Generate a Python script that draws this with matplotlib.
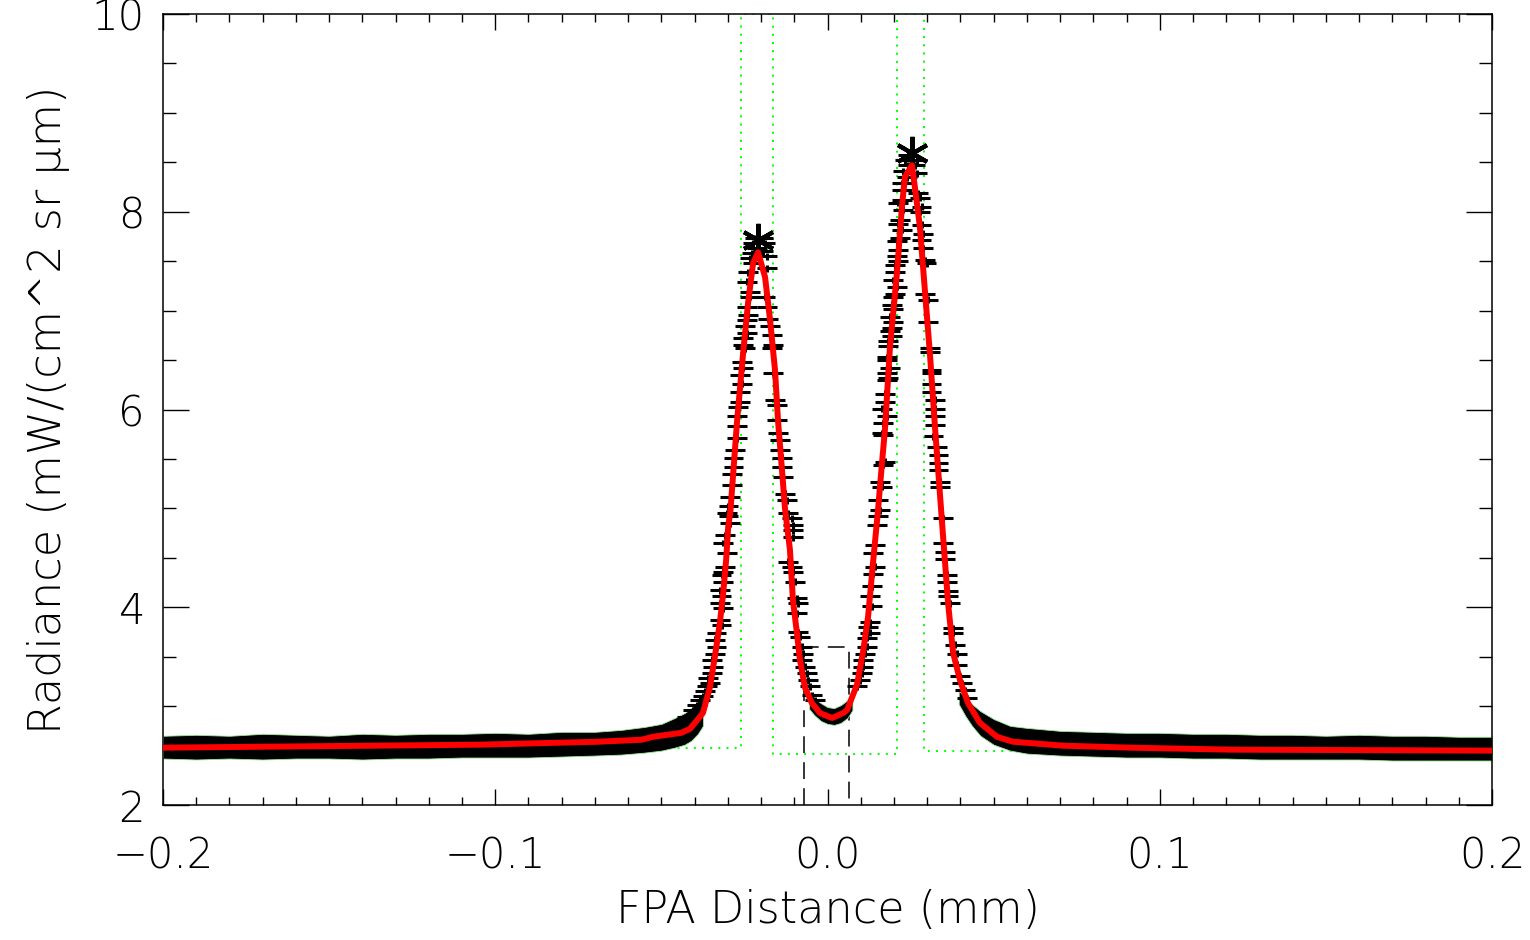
import matplotlib
matplotlib.use("Agg")
import matplotlib.pyplot as plt
from matplotlib.ticker import MultipleLocator

# ---------------- data ----------------
# red fit curve
fit_x = [-0.200, -0.105, -0.069, -0.056, -0.0525, -0.044, -0.0414, -0.0375, -0.0354, -0.0339,
         -0.0324, -0.0314, -0.0305, -0.0299, -0.0292, -0.0272, -0.0254, -0.0239, -0.0224, -0.0209,
         -0.0188, -0.0173, -0.0158, -0.0149, -0.0137, -0.0128, -0.0113, -0.0104, -0.0092, -0.0083,
         -0.0068, -0.0047, -0.0032, -0.0023, 0.0014, 0.0047, 0.0059, 0.0089, 0.0107, 0.0122,
         0.0137, 0.0152, 0.0164, 0.0173, 0.0188, 0.0209, 0.0224, 0.0233, 0.0254, 0.0263,
         0.0278, 0.0293, 0.0309, 0.0324, 0.0333, 0.0348, 0.0363, 0.0378, 0.0399, 0.0423,
         0.0459, 0.0510, 0.0558, 0.0709, 0.0910, 0.1211, 0.200]
fit_y = [2.58, 2.61, 2.64, 2.66, 2.69, 2.73, 2.77, 2.93, 3.19, 3.50,
         3.84, 4.14, 4.48, 4.81, 4.98, 5.89, 6.57, 7.08, 7.48, 7.59,
         7.34, 6.91, 6.40, 5.89, 5.39, 5.00, 4.58, 4.07, 3.74, 3.47,
         3.19, 3.03, 2.97, 2.93, 2.88, 2.93, 2.96, 3.22, 3.55, 3.90,
         4.45, 4.98, 5.46, 5.80, 6.63, 7.38, 8.05, 8.35, 8.47, 8.25,
         7.85, 7.21, 6.53, 5.80, 5.39, 4.71, 4.04, 3.54, 3.26, 3.03,
         2.83, 2.69, 2.64, 2.60, 2.58, 2.56, 2.55]

# dense noisy data shown as an envelope (lower / upper edge of the black band)
band_left_x = [-0.200, -0.190, -0.180, -0.170, -0.160, -0.150, -0.140, -0.130, -0.120, -0.110,
               -0.100, -0.090, -0.080, -0.070, -0.062, -0.055, -0.050, -0.046, -0.043, -0.041,
               -0.039, -0.0375]
band_left_lo = [2.47, 2.46, 2.47, 2.46, 2.47, 2.47, 2.46, 2.47, 2.47, 2.48,
                2.48, 2.48, 2.49, 2.50, 2.51, 2.53, 2.55, 2.58, 2.61, 2.65,
                2.72, 2.80]
band_left_hi = [2.70, 2.71, 2.70, 2.72, 2.71, 2.70, 2.72, 2.71, 2.72, 2.72,
                2.73, 2.72, 2.74, 2.74, 2.76, 2.79, 2.82, 2.88, 2.93, 2.98,
                3.05, 3.12]

band_mid_x = [-0.0055, -0.0040, -0.0020, 0.0000, 0.0020, 0.0040, 0.0060, 0.0075]
band_mid_lo = [2.97, 2.91, 2.85, 2.82, 2.81, 2.83, 2.88, 2.96]
band_mid_hi = [3.12, 3.08, 3.03, 2.99, 2.98, 3.01, 3.06, 3.15]

band_right_x = [0.0395, 0.0415, 0.0435, 0.0460, 0.0500, 0.0550, 0.0600, 0.0700, 0.0800, 0.0900,
                0.1000, 0.1100, 0.1200, 0.1300, 0.1400, 0.1500, 0.1600, 0.1700, 0.1800, 0.1900,
                0.2000]
band_right_lo = [3.02, 2.90, 2.80, 2.70, 2.61, 2.55, 2.52, 2.50, 2.49, 2.48,
                 2.48, 2.47, 2.47, 2.46, 2.46, 2.46, 2.46, 2.45, 2.45, 2.45, 2.45]
band_right_hi = [3.16, 3.08, 3.02, 2.95, 2.87, 2.80, 2.78, 2.75, 2.74, 2.73,
                 2.73, 2.72, 2.72, 2.71, 2.71, 2.70, 2.71, 2.70, 2.70, 2.69, 2.69]

# individual data points on the flanks (drawn with horizontal error bars)
lrise_x = [-0.0424, -0.0404, -0.0394, -0.0384, -0.0374, -0.0369, -0.0364, -0.0354, -0.0359, -0.0349,
           -0.0344, -0.0349, -0.0339, -0.0334, -0.0339, -0.0334, -0.0319, -0.0324, -0.0314, -0.0324,
           -0.0319, -0.0324, -0.0314, -0.0319, -0.0314, -0.0308, -0.0303, -0.0314, -0.0308, -0.0293,
           -0.0298, -0.0303, -0.0298, -0.0293, -0.0288, -0.0288, -0.0283, -0.0283, -0.0278, -0.0273,
           -0.0273, -0.0273, -0.0268, -0.0263, -0.0263, -0.0258, -0.0263, -0.0253, -0.0258, -0.0248,
           -0.0253, -0.0253, -0.0243, -0.0248, -0.0243, -0.0238, -0.0243, -0.0233, -0.0233, -0.0243,
           -0.0238, -0.0223, -0.0233, -0.0228, -0.0213, -0.0223, -0.0218]
lrise_y = [2.89, 2.96, 3.01, 3.06, 3.10, 3.15, 3.20, 3.23, 3.28, 3.33,
           3.40, 3.47, 3.53, 3.60, 3.67, 3.74, 3.82, 3.87, 3.99, 4.04,
           4.11, 4.17, 4.26, 4.33, 4.36, 4.41, 4.55, 4.65, 4.73, 4.85,
           4.92, 4.95, 5.02, 5.12, 5.24, 5.35, 5.42, 5.51, 5.59, 5.71,
           5.83, 5.93, 6.03, 6.08, 6.18, 6.26, 6.35, 6.42, 6.48, 6.62,
           6.65, 6.72, 6.77, 6.84, 6.91, 6.96, 7.04, 7.14, 7.19, 7.29,
           7.39, 7.48, 7.53, 7.58, 7.63, 7.68, 7.73]

lfall_x = [-0.0193, -0.0188, -0.0193, -0.0183, -0.0183, -0.0188, -0.0183, -0.0178, -0.0173, -0.0168,
           -0.0163, -0.0168, -0.0163, -0.0158, -0.0153, -0.0153, -0.0148, -0.0143, -0.0143, -0.0138,
           -0.0138, -0.0133, -0.0128, -0.0123, -0.0118, -0.0108, -0.0103, -0.0103, -0.0103, -0.0118,
           -0.0108, -0.0103, -0.0098, -0.0093, -0.0088, -0.0093, -0.0088, -0.0083, -0.0078, -0.0073,
           -0.0078, -0.0068, -0.0063, -0.0058, -0.0053, -0.0048, -0.0038]
lfall_y = [7.73, 7.68, 7.60, 7.55, 7.43, 7.14, 7.04, 6.92, 6.84, 6.75,
           6.65, 6.62, 6.37, 6.10, 6.05, 5.89, 5.76, 5.69, 5.59, 5.51,
           5.42, 5.32, 5.15, 5.08, 4.95, 4.90, 4.83, 4.78, 4.71, 4.46,
           4.41, 4.36, 4.26, 4.09, 4.04, 3.94, 3.75, 3.70, 3.60, 3.53,
           3.47, 3.40, 3.33, 3.26, 3.20, 3.11, 3.06]

rrise_x = [0.0088, 0.0098, 0.0103, 0.0108, 0.0108, 0.0113, 0.0118, 0.0118, 0.0128, 0.0123,
           0.0128, 0.0133, 0.0128, 0.0133, 0.0138, 0.0143, 0.0138, 0.0143, 0.0148, 0.0153,
           0.0158, 0.0153, 0.0163, 0.0158, 0.0168, 0.0173, 0.0168, 0.0163, 0.0168, 0.0178,
           0.0163, 0.0173, 0.0173, 0.0178, 0.0183, 0.0178, 0.0188, 0.0178, 0.0178, 0.0183,
           0.0183, 0.0193, 0.0188, 0.0193, 0.0198, 0.0188, 0.0198, 0.0193, 0.0198, 0.0203,
           0.0208, 0.0198, 0.0203, 0.0203, 0.0213, 0.0208, 0.0213, 0.0208, 0.0218, 0.0223,
           0.0213, 0.0218, 0.0228, 0.0213, 0.0223, 0.0223, 0.0223, 0.0238, 0.0228, 0.0243,
           0.0233, 0.0243]
rrise_y = [3.20, 3.26, 3.33, 3.40, 3.47, 3.53, 3.60, 3.69, 3.74, 3.80,
           3.85, 4.01, 4.11, 4.21, 4.34, 4.41, 4.55, 4.63, 4.83, 4.92,
           4.98, 5.08, 5.22, 5.27, 5.44, 5.47, 5.74, 5.76, 5.86, 5.93,
           6.01, 6.08, 6.16, 6.30, 6.32, 6.37, 6.42, 6.50, 6.53, 6.64,
           6.69, 6.74, 6.79, 6.82, 6.89, 6.94, 7.02, 7.06, 7.14, 7.17,
           7.24, 7.31, 7.39, 7.46, 7.50, 7.55, 7.61, 7.70, 7.73, 7.82,
           7.88, 7.92, 8.02, 8.09, 8.12, 8.22, 8.29, 8.35, 8.41, 8.47,
           8.52, 8.57]

rfall_x = [0.0268, 0.0263, 0.0268, 0.0273, 0.0278, 0.0283, 0.0278, 0.0283, 0.0288, 0.0283,
           0.0288, 0.0293, 0.0298, 0.0293, 0.0303, 0.0303, 0.0308, 0.0308, 0.0313, 0.0313,
           0.0313, 0.0313, 0.0323, 0.0323, 0.0323, 0.0324, 0.0319, 0.0329, 0.0334, 0.0334,
           0.0334, 0.0339, 0.0339, 0.0349, 0.0349, 0.0354, 0.0354, 0.0359, 0.0359, 0.0364,
           0.0364, 0.0369, 0.0379, 0.0379, 0.0384, 0.0389, 0.0389, 0.0399, 0.0404, 0.0414,
           0.0419]
rfall_y = [8.52, 8.47, 8.39, 8.19, 8.14, 8.05, 8.00, 7.87, 7.78, 7.71,
           7.63, 7.51, 7.48, 7.17, 7.11, 6.89, 6.62, 6.58, 6.40, 6.37,
           6.26, 6.18, 6.10, 6.01, 5.93, 5.84, 5.73, 5.62, 5.54, 5.46,
           5.39, 5.27, 5.22, 4.90, 4.65, 4.56, 4.49, 4.33, 4.26, 4.16,
           4.11, 4.04, 3.79, 3.74, 3.62, 3.53, 3.42, 3.30, 3.23, 3.16,
           3.08]

# peak maxima (asterisks)
peak_x = [-0.0209, 0.0253]
peak_y = [7.71, 8.59]

# green dotted window mask
mask_x = [-0.200, -0.0260, -0.0260, -0.0164, -0.0164, 0.0209, 0.0209, 0.0290, 0.0290, 0.200]
mask_y = [2.576, 2.576, 10.0, 10.0, 2.516, 2.516, 10.0, 10.0, 2.55, 2.55]

# black dashed box around the valley
box_x = [-0.0071, -0.0071, 0.0066, 0.0066]
box_y = [2.0, 3.60, 3.60, 2.0]

# ---------------- figure ----------------
FONT = "DejaVu Sans"
W = "light"
fig = plt.figure(figsize=(15.3, 9.4), dpi=100)
ax = fig.add_axes([163 / 1530, 1 - 805 / 940, (1492 - 163) / 1530, (805 - 14) / 940])

ax.plot(mask_x, mask_y, color="#00ff00", lw=1.4, ls=(0, (1, 3.2)), zorder=1)
ax.plot(box_x, box_y, color="black", lw=1.1, ls=(0, (11, 6)), zorder=1.5)

for bx, lo, hi in [(band_left_x, band_left_lo, band_left_hi),
                   (band_mid_x, band_mid_lo, band_mid_hi),
                   (band_right_x, band_right_lo, band_right_hi)]:
    ax.fill_between(bx, lo, hi, color="black", lw=0.6, edgecolor="#9be89b", zorder=2)

for dx, dy in [(lrise_x, lrise_y), (lfall_x, lfall_y), (rrise_x, rrise_y), (rfall_x, rfall_y)]:
    ax.errorbar(dx, dy, xerr=0.0030, yerr=0.035, fmt="none", ecolor="black",
                elinewidth=2.2, capsize=0, zorder=3)

ax.plot(peak_x, peak_y, ls="none", marker=(6, 2, 0), ms=24, mew=3.0, color="black", zorder=3)
ax.plot(fit_x, fit_y, color="red", lw=4.3, zorder=5, solid_joinstyle="round")

ax.set_xlim(-0.2, 0.2)
ax.set_ylim(2, 10)
ax.xaxis.set_major_locator(MultipleLocator(0.1))
ax.xaxis.set_minor_locator(MultipleLocator(0.01))
ax.yaxis.set_major_locator(MultipleLocator(2))
ax.yaxis.set_minor_locator(MultipleLocator(0.5))
ax.tick_params(which="both", direction="in", top=True, right=True, width=1.0, color="black")
ax.tick_params(axis="x", which="major", length=11.5, pad=22)
ax.tick_params(axis="x", which="minor", length=5.8)
ax.tick_params(axis="y", which="major", length=19, pad=13)
ax.tick_params(axis="y", which="minor", length=9.4)
for sp in ax.spines.values():
    sp.set_linewidth(1.1)

for lab in ax.get_xticklabels() + ax.get_yticklabels():
    lab.set_fontfamily(FONT)
    lab.set_fontsize(30)
    lab.set_fontweight(W)

ax.set_xlabel("FPA Distance (mm)", fontsize=32, family=FONT, fontweight=W, labelpad=9)
ax.set_ylabel("Radiance (mW/(cm^2 sr μm)", fontsize=32, family=FONT,
              fontweight=W, labelpad=16)

fig.canvas.draw()
ylabs = ax.get_yticklabels()
if ylabs:
    ylabs[0].set_va("bottom")
    ylabs[-1].set_va("top")

fig.savefig("out.png", dpi=100)
